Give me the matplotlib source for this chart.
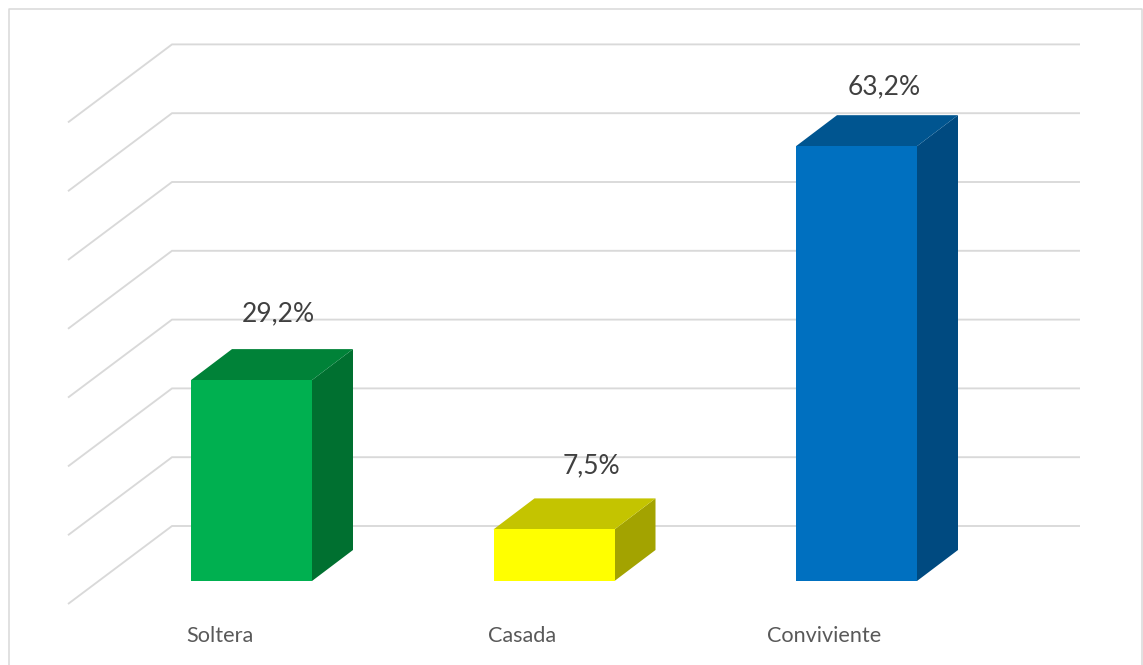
import matplotlib
matplotlib.use("Agg")
import matplotlib.pyplot as plt
from matplotlib.patches import Polygon, Rectangle

categories = ["Soltera", "Casada", "Conviviente"]
values = [29.2, 7.5, 63.2]
value_labels = ["29,2%", "7,5%", "63,2%"]
grid_values = [0, 10, 20, 30, 40, 50, 60, 70]
front_colors = ["#00B050", "#FFFF00", "#0070C0"]
top_colors = ["#008238", "#C4C400", "#005590"]
side_colors = ["#007030", "#A3A300", "#004A80"]

PX_PER_CAT = 302.5
PX_PER_UNIT = 6.88

fig = plt.figure(figsize=(11.43, 6.65), dpi=100)
ax = fig.add_axes([0, 0, 1, 1])
ax.set_xlim(-251.5 / PX_PER_CAT, (1143 - 251.5) / PX_PER_CAT)
ax.set_ylim(-(665 - 581) / PX_PER_UNIT, 581 / PX_PER_UNIT)
ax.axis("off")

# bar depth and floor offsets of the pseudo-3D box, in data units
bar_w = 121 / PX_PER_CAT
dx = 41 / PX_PER_CAT
dy = 31 / PX_PER_UNIT
wall_y = 55 / PX_PER_UNIT
floor_y = -23 / PX_PER_UNIT
wall_x0 = (172 - 251.5) / PX_PER_CAT
wall_x1 = (1080 - 251.5) / PX_PER_CAT
floor_x0 = (68 - 251.5) / PX_PER_CAT

# back wall and side wall gridlines
grid_color = "#D9D9D9"
for g in grid_values:
    ax.plot([floor_x0, wall_x0, wall_x1], [g + floor_y, g + wall_y, g + wall_y],
            color=grid_color, lw=1.35, solid_joinstyle="miter",
            solid_capstyle="butt", zorder=1)

# outer frame of the chart area, open at the bottom edge
frame_x0, frame_x1 = (8.5 - 251.5) / PX_PER_CAT, (1142 - 251.5) / PX_PER_CAT
frame_top = (581 - 8.5) / PX_PER_UNIT
frame_bottom = -(665 - 581) / PX_PER_UNIT
ax.plot([frame_x0, frame_x0, frame_x1, frame_x1],
        [frame_bottom, frame_top, frame_top, frame_bottom],
        color=grid_color, lw=1.1, zorder=1, clip_on=False)

# data label offsets from each bar's top front edge, in pixels
label_dx = [26.5, 37, 28]
label_dy = [66, 64, 59]

for i, (cat, v, lab) in enumerate(zip(categories, values, value_labels)):
    x0, x1 = i - bar_w / 2, i + bar_w / 2
    ax.add_patch(Polygon([(x1, 0), (x1 + dx, dy), (x1 + dx, v + dy), (x1, v)],
                         closed=True, fc=side_colors[i], ec="none", zorder=3))
    ax.add_patch(Polygon([(x0, v), (x0 + dx, v + dy), (x1 + dx, v + dy), (x1, v)],
                         closed=True, fc=top_colors[i], ec="none", zorder=3))
    ax.add_patch(Rectangle((x0, 0), bar_w, v, fc=front_colors[i], ec="none", zorder=4))
    ax.text(i + label_dx[i] / PX_PER_CAT, v + label_dy[i] / PX_PER_UNIT, lab,
            ha="center", va="center", fontsize=19, color="#404040",
            family="Lato", zorder=5)
    ax.text(i - 32 / PX_PER_CAT, -55 / PX_PER_UNIT, cat,
            ha="center", va="center", fontsize=15.6, color="#595959",
            family="Lato", zorder=5)

fig.savefig("out.png", dpi=100, facecolor="white")
